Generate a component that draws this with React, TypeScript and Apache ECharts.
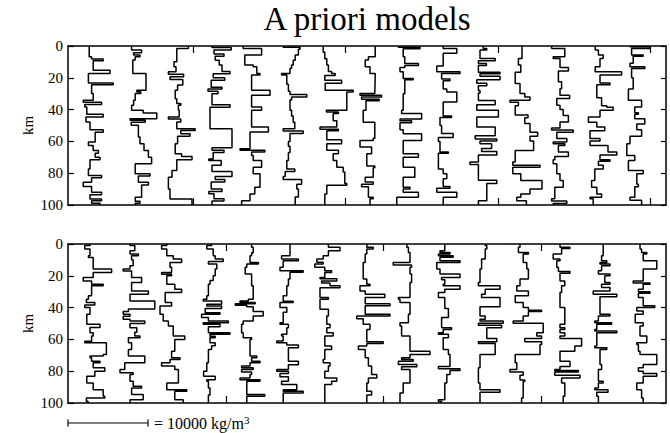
import React, { useEffect, useRef } from "react";
import * as echarts from "echarts";

// Each model: list of layers [depth at bottom of layer (km), density (kg/m3)]
type Layer = [number, number];

const depthTicks = [0, 20, 40, 60, 80, 100];
const topPanelTickValues = [15125, 34125, 53250, 72250];
const bottomPanelTickValues = [19250, 38875, 58625];
const modelSpacing = 4800; // kg/m3 shift between successive models
const xMin = -500;
const xMax = 74250;
const scaleBarValue = 10000;
const scaleBarLabel = "= 10000 kg/m";

const T1: Layer[] = [[6.7,2150],[8.2,2450],[9.3,3900],[15.2,2650],[17.3,4750],[23.2,2050],[24.4,5150],[29.9,2450],[34.1,2650],[35.4,1400],[36.8,3700],[38.3,1600],[42.9,1850],[44.6,3900],[47.8,1750],[52.6,2250],[54.3,3900],[60.4,2900],[62.5,2050],[65.7,2650],[67.4,3300],[69.9,2900],[71.6,3500],[77.3,2250],[81.5,2050],[82.9,3700],[85.7,2450],[88.4,1400],[92.0,2450],[93.5,3700],[96.2,2250],[97.3,3700],[98.9,2450],[100,3500]];
const T2: Layer[] = [[2.5,2650],[4.2,3900],[5.7,2900],[6.7,3700],[8.8,3100],[17.3,2800],[27.8,4450],[28.8,3300],[29.9,3800],[34.1,3100],[37.3,2900],[40.4,2650],[42.1,4100],[45.7,5800],[46.7,2450],[48,4350],[49.9,2600],[57.3,3500],[61.5,3700],[65.7,4200],[69.9,4750],[74.1,5150],[80.4,3100],[81.7,4950],[85.7,3500],[87.4,4750],[95.2,3900],[97.7,3100],[98.9,3700],[100,3100]];
const T3: Layer[] = [[1.5,4950],[9.9,3500],[13.1,3150],[16.2,3400],[17.7,2450],[19.4,4350],[21.1,2650],[24.6,4250],[27.8,3600],[33.1,3300],[36.2,3500],[37.3,4000],[40.4,3700],[44.6,3800],[45.9,2450],[47.8,4000],[52.0,3500],[53.1,5800],[55.2,4000],[56.8,5150],[61.5,3600],[67.8,3300],[69.5,4100],[71.6,5400],[78.3,3500],[82.5,2900],[89.9,2450],[96.2,2650],[100,5400]];
const T4: Layer[] = [[1.0,3100],[2.5,5500],[5,3350],[6.5,4600],[9,3500],[12,4000],[16,4350],[17.5,5350],[20,3250],[21.5,4700],[26,3000],[27,4350],[28.5,2600],[30,3850],[37,3100],[38.5,5350],[52,2850],[64,5600],[65.5,3100],[67,4600],[71,3250],[72,2700],[75,4250],[79,3100],[82,5600],[84,3500],[85.5,4700],[90,3000],[91.5,4350],[93,2700],[96,3350],[97.5,4600],[100,3100]];
const T5: Layer[] = [[1.5,2200],[5.7,4500],[12,2400],[13.1,3450],[17.3,3900],[18.3,4300],[27.8,3250],[30.9,5550],[38.3,3250],[40.4,4500],[50.9,3250],[54.1,5350],[64.6,3050],[65.5,1800],[66.7,4900],[68.8,3250],[72,3450],[76.2,4500],[80.4,3450],[88.8,4300],[93.1,3650],[97.3,3050],[100,2000]];
const T6: Layer[] = [[0.8,2400],[2.0,4500],[5.7,4300],[9,3900],[12,3650],[14,3450],[17.3,3250],[18.3,2200],[24,2850],[28.5,3050],[30.5,3250],[32,5350],[34,3450],[40.4,3250],[44,3450],[48,3650],[52,3850],[53.5,2400],[55,4900],[60,3250],[63,3050],[67,3250],[72,3050],[77.3,2850],[79,3850],[82,2650],[84,2400],[87,4700],[90,4100],[95,4300],[100,3900]];
const T7: Layer[] = [[4,2600],[8,2800],[12,3050],[16,3250],[17.3,3650],[18.5,4100],[21.5,2800],[23.5,4900],[27.8,2850],[29,6350],[40.4,5550],[41.5,3000],[42.5,4500],[47,3850],[51,4300],[52.3,2200],[53.3,4500],[59,3050],[61.5,4900],[65.5,3050],[67.8,4500],[72,3850],[76.2,4300],[79.3,5100],[86.5,5300],[87.5,5550],[93.1,3050],[100,2800]];
const T8: Layer[] = [[6.7,4300],[8.8,3450],[13,3050],[17.3,3650],[19.4,4300],[29.9,4250],[31,2400],[32,5100],[33.5,2600],[34.5,4800],[40.4,3150],[48,2800],[58,4250],[59.5,4050],[63.6,2400],[67.8,3850],[72,3250],[75.5,3250],[76.5,4250],[82.5,4050],[85.5,3050],[87,4050],[88.5,2600],[95.2,3450],[96,4050],[100,3650]];
const T9: Layer[] = [[0.8,2400],[1.7,5100],[6.7,3000],[11,3200],[12.3,4900],[13.5,3200],[16.2,2600],[20.4,3000],[21.3,4250],[30,3200],[40.4,3000],[42.5,2800],[45.9,5300],[47,2600],[48.2,4050],[52.6,2600],[55.2,3000],[59.4,5300],[67.8,3000],[69.9,4900],[76.2,3000],[82.5,4450],[88.8,3000],[90,3850],[92,3000],[95.2,4900],[100,2200]];
const T10: Layer[] = [[1.5,3200],[4.6,4900],[12.5,3200],[16.2,2400],[17.3,5300],[20.8,3000],[21.8,4050],[27,3200],[29,3650],[35.2,4900],[44,3200],[45,4250],[50,2800],[55,3000],[57.5,4450],[60,2600],[66.7,2800],[67.5,3850],[77.3,2600],[80.4,3200],[83.5,3650],[88.4,3200],[89.5,4050],[92,2400],[95.2,4900],[100,3200]];
const T11: Layer[] = [[1.5,3400],[2.5,3850],[7.8,3000],[9.2,4900],[11,2800],[12.2,3800],[16.5,2800],[17.5,5500],[19,3000],[21.3,5500],[23.5,2600],[25,3850],[28,2800],[29.5,3000],[34.3,2800],[37,4900],[40.4,2600],[44.6,5300],[51,2600],[56.5,4900],[58.5,2400],[59.8,5100],[61.5,3000],[64.5,4450],[66.3,3200],[68.5,5100],[73,2800],[74.5,1750],[84.5,2800],[86.5,5100],[97.3,3850],[100,2800]];
const T12: Layer[] = [[7.8,3450],[12,3000],[16.5,3300],[23.6,2600],[29.9,3200],[32,3800],[34.1,4450],[35.3,1950],[37.5,3000],[43.4,2600],[45.2,4200],[48.8,3800],[54.3,4450],[56.8,5400],[59.8,4450],[65.7,4900],[73,2600],[75,2300],[76.2,5700],[80.4,2300],[84.6,3300],[89.9,5950],[93.1,4450],[95.2,3300],[97.3,2800],[100,4000]];
const T13: Layer[] = [[1.5,2350],[6.7,4000],[7.8,2550],[13.5,3400],[15.8,4450],[22.5,3200],[26.9,3600],[30.9,3400],[33,4600],[37.3,3000],[40,3400],[43.7,3800],[47.8,4450],[51.5,3400],[52.8,2350],[54.3,5050],[58.2,3000],[60.4,4250],[61.5,2550],[62.5,4000],[66.7,3200],[69.5,4450],[71.6,2750],[74,2550],[80.4,3000],[84.6,3400],[88.8,3800],[96,2750],[97.5,2350],[99,4250],[100,2550]];
const T14: Layer[] = [[2.5,3000],[5.7,3400],[7.8,4000],[13,3600],[16.2,3000],[18.3,6300],[23.2,3600],[24.4,4850],[32.5,3200],[37.5,3800],[38.5,4450],[40.4,5250],[44.6,3600],[48,2150],[51,3200],[53.3,4200],[58.2,2350],[59.8,3600],[62.5,2350],[66.7,4600],[68.5,5700],[71.6,3600],[72.5,4850],[75,3400],[77.3,4000],[84.6,2950],[88.8,2550],[93.1,3200],[95.2,3800],[96,2350],[100,2750]];
const T15: Layer[] = [[0.5,2550],[1.5,5050],[5.7,2750],[6.5,4200],[10.9,2950],[13.1,2550],[14.1,4400],[20,2750],[27,2950],[34.1,2350],[38.3,4000],[42,3150],[43,3600],[45.7,3150],[49,4400],[52.6,3400],[56.8,4000],[61.5,2550],[68.8,2150],[72,3150],[78.3,2350],[80.4,4200],[87,3400],[88.5,3600],[95.2,3150],[97,2550],[100,4000]];

const B1: Layer[] = [[1.0,2250],[3.2,1600],[7.4,2250],[8.5,2050],[15.8,2650],[17.9,4950],[21.1,2650],[23.2,1400],[25.3,2450],[26.3,3900],[32.6,2450],[34.7,2050],[36.8,1800],[38.4,2850],[40,1600],[44.2,2250],[50.5,1850],[52.5,3500],[55.8,2250],[57.9,2650],[61.1,2450],[62.1,1600],[69.5,4300],[70.5,3900],[71.6,2250],[73.7,2450],[74.7,3500],[77.9,2650],[80,4100],[83.2,2850],[87.4,1850],[91.6,2650],[92.6,3900],[95.8,3900],[96.8,4100],[98.9,1800],[100,2000]];
const B2: Layer[] = [[1.0,2450],[4.2,3050],[6.3,2450],[7.4,3500],[10,2650],[13.7,2850],[15.8,2450],[17,1600],[21.1,2650],[24.2,3900],[29.5,2650],[31.6,4750],[35.8,2450],[40.9,5550],[42.5,2250],[44.2,1600],[45.5,2450],[47.4,1600],[48.5,2450],[50,4300],[52.6,2450],[55.5,3300],[57.9,3050],[59,3700],[62.1,2250],[66.3,2650],[70.5,2250],[74.7,4300],[78.9,1800],[81,1200],[82.1,2850],[86.3,2450],[89.5,2850],[90.5,3900],[94.7,2650],[97.9,4100],[100,2450]];
const B3: Layer[] = [[1.0,2250],[3.2,1600],[7.4,2250],[9.5,3050],[11.6,4100],[14.7,2650],[17.9,2850],[19,1600],[20,2850],[25.3,2250],[28.4,3250],[30.5,4100],[36.8,2050],[39,2850],[44.2,1400],[48.4,1800],[51.6,2450],[57.9,3050],[60,4500],[67.4,3250],[71.6,2850],[72.6,3900],[74.7,2650],[76.8,1600],[78.9,3250],[87.4,3700],[91.6,2250],[92.6,4750],[97.9,3250],[100,4300]];
const B4: Layer[] = [[1.0,3050],[3.2,2450],[7.4,3250],[9.5,3500],[11,4500],[12.6,2650],[15.8,3700],[20,3500],[23,3250],[25.3,2850],[32.6,2650],[34.7,2450],[35.8,2000],[37.9,4300],[39,2450],[40.5,4300],[43.2,2250],[44.2,4100],[46.3,1800],[48.4,2650],[49.5,5150],[50.5,2000],[52,4100],[55.8,2650],[56.8,5350],[58,2850],[59,3500],[62.1,2850],[64,3500],[66.3,3050],[74.7,2650],[80,2450],[83.2,2050],[85.3,3500],[86.3,2450],[90.5,2650],[95,2850],[100,2650]];
const B5: Layer[] = [[2,3250],[5.5,3450],[7.4,3250],[11.6,3050],[12.6,4100],[14.7,2650],[18.9,2450],[26.3,3250],[34.7,3450],[35.8,2850],[36.8,1800],[37.5,3700],[38.5,1200],[39.5,2650],[42.5,3450],[45.3,4700],[48.4,3450],[50.5,2200],[55.8,2000],[58.9,2200],[60,3250],[70.5,3050],[71.6,3900],[73.7,3250],[74.7,4300],[76.8,3050],[77.9,2000],[79,3450],[80.5,2000],[82,3250],[84.2,3050],[85.3,1800],[86.3,4300],[94.7,2650],[95.8,4900],[100,2650]];
const B6: Layer[] = [[7.4,3250],[9.5,2200],[10.5,4300],[14.7,2400],[16.8,2000],[17.8,4900],[22,3250],[26.3,3050],[32.6,2850],[36,2400],[36.8,3650],[40,2000],[43,2850],[49.5,2400],[50.5,2000],[52.6,3050],[56.8,2850],[57.9,2200],[61,2400],[62.1,1600],[63.5,2850],[65.3,4300],[73.7,3050],[76,4300],[78.9,3050],[80,1600],[81.5,3050],[83.5,2000],[86.3,3050],[88.4,2200],[91.6,4100],[92.6,2400],[93.7,4900],[100,2400]];
const B7: Layer[] = [[2.1,3250],[4.2,4700],[7.4,3250],[9.5,2600],[11.5,1800],[12.6,2600],[14.7,1550],[16.8,2800],[17.9,3650],[21.1,2800],[21.8,2200],[23.2,4300],[24.5,2400],[26.3,3450],[27.5,4700],[33.7,2200],[34.7,3250],[41.1,2200],[45.3,3250],[50.5,3050],[52.6,3450],[55.8,3050],[57.9,3850],[64.2,2800],[66.3,3650],[72.6,2800],[74.7,2600],[76.8,3450],[80,3250],[84.2,2800],[86.3,4300],[88.4,3650],[100,2800]];
const B8: Layer[] = [[2,3250],[3.2,4050],[6.3,3250],[11.6,3050],[22,2800],[25.3,3250],[26.3,3650],[29.5,2400],[31.6,3050],[33.7,5500],[37.5,3050],[38.9,6150],[44.2,3050],[45.3,6150],[47,2000],[50.5,2800],[53.7,3650],[61.5,3250],[62.6,5300],[64.2,3250],[66.3,2200],[71.6,3050],[76.8,3450],[82.1,3850],[84.2,4500],[87.4,3450],[92.6,3250],[95,3850],[100,3250]];
const B9: Layer[] = [[2.1,3450],[5.3,3650],[11.6,3850],[13.2,1750],[14.7,4050],[18.9,3850],[24.2,4050],[33.7,3850],[34.7,2400],[36.8,2600],[44.2,3850],[49.5,3650],[51.6,2600],[57.9,2800],[67.4,3850],[69.5,6350],[71.6,3850],[72.6,2800],[73.7,4250],[75.8,2400],[77.2,4700],[78.9,2800],[87.4,3850],[93.7,3000],[100,2600]];
const B10: Layer[] = [[4.2,3400],[5.3,2800],[6.3,4050],[7.4,2600],[8.4,4450],[10.5,2800],[11.6,5300],[15.8,2400],[18.9,2800],[21.1,5300],[22.5,3000],[25.3,3400],[26.3,3200],[28.4,5300],[30.5,3400],[33.7,2600],[40.5,3400],[46.3,3850],[52.6,3000],[53.7,4250],[55.8,3200],[56.8,2600],[58.9,3850],[66.3,3200],[69.5,3850],[77,4050],[78.5,2600],[79.5,5300],[82.1,4050],[87.4,3650],[97.9,3400],[99,2600],[100,3000]];
const B11: Layer[] = [[1.0,3650],[3.2,3850],[9.5,3650],[15.8,3200],[24.2,3000],[26.3,2800],[28.4,5500],[31.6,3650],[33.7,3200],[39.5,5500],[45.3,3000],[47.4,3650],[48.4,3000],[49.8,5900],[51.1,2800],[52.6,5700],[59.4,3850],[61.5,5100],[62.6,2800],[69.5,4900],[77.9,3000],[87.4,2800],[91.6,3000],[93.2,5500],[100,3000]];
const B12: Layer[] = [[2.1,3200],[5.3,3000],[6.3,4250],[11.6,3600],[15.8,4050],[22,4250],[26.3,3200],[29.5,2800],[32.6,4250],[36.8,2600],[40,3600],[41.6,4250],[42.5,5900],[45.3,4250],[48.4,3600],[49.9,2350],[55.8,6100],[57.9,5300],[59.5,5900],[61.5,3800],[63.2,5900],[69.5,5700],[74.7,2600],[79,2800],[80.5,1950],[82.5,3600],[85.5,3200],[86.5,3800],[96.8,3600],[100,3400]];
const B13: Layer[] = [[2.1,3400],[2.8,4650],[6.3,3600],[9.5,2550],[10.5,3400],[14.7,3000],[17.3,3200],[18.4,4650],[23.2,3400],[26.3,4000],[30.5,3600],[40,3400],[50.5,4000],[52.6,3400],[53.7,4000],[55.8,3400],[57.9,4000],[59.5,3400],[64.2,6100],[67.4,5250],[73.7,3400],[77,4650],[78.9,3400],[79.5,2750],[80.5,5700],[82.5,2750],[84.2,5900],[87.4,3600],[95.8,4000],[100,3800]];
const B14: Layer[] = [[7.4,4000],[10.5,3800],[11.6,4450],[12.6,3600],[13.7,4850],[16.8,3800],[18.9,3400],[20,4850],[24.2,4200],[25.3,4850],[27.4,3800],[29.5,4850],[31.6,2750],[33.2,5700],[44.2,3600],[45.3,4850],[48.4,3400],[49.5,2950],[50.5,5050],[53.7,3200],[54.7,2950],[55.8,5700],[64.2,3200],[65.3,2950],[66.3,4450],[75.8,3600],[78.9,3800],[86.3,3400],[87.4,4000],[90.5,3400],[91.6,2950],[93.2,4600],[95.8,3200],[100,3400]];
const B15: Layer[] = [[3.2,3800],[5.3,4000],[6.3,4650],[10.5,4200],[15.8,5900],[23.2,4200],[24.5,2950],[25.3,5050],[28.4,4200],[30,3600],[31,5050],[33.7,3600],[38.9,4200],[40,5650],[42.1,3400],[44.2,4200],[49.5,3200],[51.6,4200],[57.9,3800],[62.1,4650],[63.2,3400],[67.4,3600],[69.5,3800],[75.8,5900],[77.9,4200],[80,3600],[81.5,4200],[83.2,5900],[87.4,4200],[91.6,3400],[96.8,4000],[100,4200]];

const topModels = [T1, T2, T3, T4, T5, T6, T7, T8, T9, T10, T11, T12, T13, T14, T15];
const bottomModels = [B1, B2, B3, B4, B5, B6, B7, B8, B9, B10, B11, B12, B13, B14, B15];

const FONT = "Liberation Serif";
const lineStyle = { color: "#000", width: 1.5 };

function stepPoints(layers: Layer[], offset: number): number[][] {
  const pts: number[][] = [];
  let prev = 0;
  for (const [d, rho] of layers) {
    pts.push([offset + rho, prev]);
    pts.push([offset + rho, d]);
    prev = d;
  }
  return pts;
}

function xAxisDef(gridIndex: number, position: string, ticks: number[]) {
  return {
    type: "value",
    gridIndex,
    position,
    min: xMin,
    max: xMax,
    axisLine: { show: true, onZero: false, lineStyle },
    axisTick: { show: true, inside: true, length: 7, customValues: ticks, lineStyle: { color: "#000", width: 1.2 } },
    axisLabel: { show: false },
    splitLine: { show: false },
  };
}

function yAxisDef(gridIndex: number, position: string, labelled: boolean) {
  return {
    type: "value",
    gridIndex,
    position,
    inverse: true,
    min: depthTicks[0],
    max: depthTicks[depthTicks.length - 1],
    interval: 20,
    axisLine: { show: true, onZero: false, lineStyle },
    axisTick: { show: true, inside: true, length: labelled ? 6 : 5, lineStyle: { color: "#000", width: 1.2 } },
    axisLabel: { show: labelled, color: "#000", fontFamily: FONT, fontSize: 15, margin: 5 },
    splitLine: { show: false },
    name: labelled ? "km" : "",
    nameLocation: "middle",
    nameGap: 33,
    nameMoveOverlap: false,
    nameRotate: 90,
    nameTextStyle: { color: "#000", fontFamily: FONT, fontSize: 15 },
  };
}

export default function App() {
  const ref = useRef<HTMLDivElement>(null);
  useEffect(() => {
    const chart = echarts.init(ref.current!, null, { renderer: "svg" });
    const series: any[] = [];
    topModels.forEach((m, k) => {
      series.push({
        type: "line", xAxisIndex: 0, yAxisIndex: 0, data: stepPoints(m, k * modelSpacing),
        showSymbol: false, symbol: "none", lineStyle: { color: "#000", width: 1.5 }, silent: true, clip: true,
      });
    });
    bottomModels.forEach((m, k) => {
      series.push({
        type: "line", xAxisIndex: 2, yAxisIndex: 2, data: stepPoints(m, k * modelSpacing),
        showSymbol: false, symbol: "none", lineStyle: { color: "#000", width: 1.5 }, silent: true, clip: true,
      });
    });
    chart.setOption({
      animation: false,
      backgroundColor: "#fff",
      textStyle: { fontFamily: FONT },
      grid: [
        { left: 68, top: 46, width: 598, height: 159 },
        { left: 68, top: 244, width: 598, height: 159 },
      ],
      xAxis: [
        xAxisDef(0, "bottom", topPanelTickValues),
        xAxisDef(0, "top", topPanelTickValues),
        xAxisDef(1, "bottom", bottomPanelTickValues),
        xAxisDef(1, "top", bottomPanelTickValues),
      ],
      yAxis: [
        yAxisDef(0, "left", true),
        yAxisDef(0, "right", false),
        yAxisDef(1, "left", true),
        yAxisDef(1, "right", false),
      ],
      series,
    });
    const x0 = chart.convertToPixel({ xAxisIndex: 2 }, xMin) as number;
    const x1 = chart.convertToPixel({ xAxisIndex: 2 }, xMin + scaleBarValue) as number;
    const xc = ((chart.convertToPixel({ xAxisIndex: 0 }, xMin) as number) + (chart.convertToPixel({ xAxisIndex: 0 }, xMax) as number)) / 2;
    const yBar = 423;
    chart.setOption({
      graphic: [
        { type: "text", x: xc, y: 19, style: { text: "A priori models", fontFamily: FONT, fontSize: 33, fill: "#000", align: "center", verticalAlign: "middle" } },
        { type: "line", shape: { x1: x0, y1: yBar, x2: x1, y2: yBar }, style: { stroke: "#000", lineWidth: 1.2 } },
        { type: "line", shape: { x1: x0, y1: yBar - 3.5, x2: x0, y2: yBar + 3.5 }, style: { stroke: "#000", lineWidth: 1.2 } },
        { type: "line", shape: { x1: x1, y1: yBar - 3.5, x2: x1, y2: yBar + 3.5 }, style: { stroke: "#000", lineWidth: 1.2 } },
        {
          type: "text", x: x1 + 6, y: yBar,
          style: {
            text: `{a|${scaleBarLabel}}{s|3}`,
            fontFamily: FONT,
            fontSize: 16,
            fill: "#000",
            verticalAlign: "middle",
            rich: {
              a: { fontFamily: FONT, fontSize: 16, fill: "#000" },
              s: { fontFamily: FONT, fontSize: 11, fill: "#000", verticalAlign: "top", padding: [0, 0, 6, 0] },
            },
          },
        },
      ],
    });
    return () => chart.dispose();
  }, []);
  return <div ref={ref} style={{ position: "fixed", left: 0, top: 0, width: 670, height: 433, background: "#fff" }} />;
}
